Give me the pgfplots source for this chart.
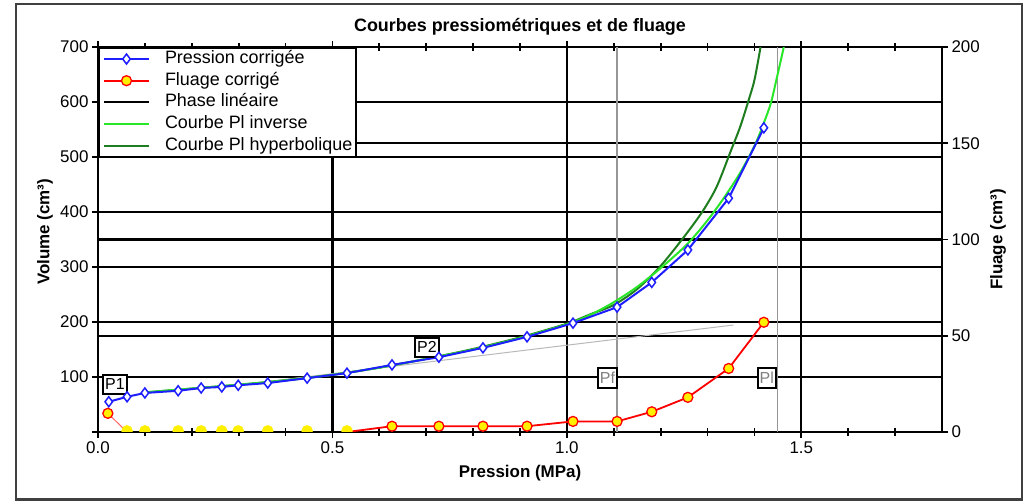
\documentclass[border=0pt]{standalone}
\usepackage{pgfplots}
\pgfplotsset{compat=1.18}
\usepackage{fontspec}
\setmainfont{Liberation Sans}
\definecolor{pblue}{RGB}{30,30,255}
\definecolor{lgreen}{RGB}{40,230,40}
\definecolor{dgreen}{RGB}{30,125,30}
\definecolor{pgray}{RGB}{150,150,150}
\definecolor{pyellow}{RGB}{255,240,0}
\begin{document}
\begin{tikzpicture}
\useasboundingbox (0,0) rectangle (1028bp,501bp);
\fill[white] (0,0) rectangle (1028bp,501bp);
\draw[line width=2.2bp, black!75] (16bp,1.5bp) rectangle (1022bp,497bp);
\begin{axis}[
  at={(98bp,69bp)}, anchor=south west,
  scale only axis, width=844bp, height=385bp,
  xmin=0, xmax=1.8, ymin=0, ymax=700,
  axis line style={line width=2bp, black},
  xtick={0,0.5,1,1.5},
  minor xtick={0.1,0.2,0.3,0.4,0.6,0.7,0.8,0.9,1.1,1.2,1.3,1.4,1.6,1.7},
  ytick={0,100,200,300,400,500,600,700},
  yticklabels={,100,200,300,400,500,600,700},
  xtick pos=both, ytick pos=left,
  tick align=center,
  major tick length=12bp, minor tick length=8bp,
  every tick/.style={line width=1.8bp, black},
  xmajorgrids, ymajorgrids,
  major grid style={line width=2.2bp, black},
  extra y ticks={175,350,525}, extra y tick labels={},
  extra y tick style={grid=major, major tick length=0bp, major grid style={line width=2.2bp, black}},
  /pgf/number format/assume math mode=true,
  tick label style={font=\fontsize{17}{20}\selectfont},
  xticklabel style={/pgf/number format/fixed, /pgf/number format/fixed zerofill, /pgf/number format/precision=1},
  xlabel={Pression (MPa)},
  xlabel style={font=\bfseries\fontsize{17}{20}\selectfont, at={(axis description cs:0.5,-0.1065)}, anchor=center},
  ylabel={Volume (cm³)},
  ylabel style={font=\bfseries\fontsize{17}{20}\selectfont, at={(axis description cs:-0.0628,0.52)}, anchor=center},
  title={Courbes pressiométriques et de fluage},
  title style={font=\bfseries\fontsize{18}{21}\selectfont, at={(axis description cs:0.5,1.036)}, anchor=center},
  legend cell align=left,
  legend image code/.code={\draw[mark repeat=2,mark phase=2,#1] plot coordinates {(0bp,0bp) (22.5bp,0bp) (45bp,0bp)};},
  legend style={at={(0,1)}, anchor=north west, draw=black, line width=2bp, fill=white,
    font=\fontsize{18}{21}\selectfont, inner xsep=4bp, inner ysep=2.5bp, row sep=4.7bp,
    nodes={inner sep=0bp, text height=13bp, text depth=4bp},
    /tikz/every odd column/.append style={column sep=15bp}},
  legend entries={Pression corrigée, Fluage corrigé, Phase linéaire, Courbe Pl inverse, Courbe Pl hyperbolique\hspace{8bp}},
]
\addlegendimage{pblue, line width=2bp, mark=diamond*, mark size=5bp, mark options={fill=white, draw=pblue, line width=1.5bp}}
\addlegendimage{red, line width=2bp, mark=*, mark size=5bp, mark options={fill=pyellow, draw=red, line width=1.3bp}}
\addlegendimage{black, line width=2bp}
\addlegendimage{lgreen, line width=2bp}
\addlegendimage{dgreen, line width=2bp}
% Pf and Pl verticals
\addplot[pgray, line width=1.8bp, forget plot] coordinates {(1.1073,0) (1.1073,700)};
\addplot[pgray, line width=1.8bp, forget plot] coordinates {(1.449,0) (1.449,700)};
% phase lineaire
\addplot[gray!55, line width=1bp, forget plot] coordinates {(0.25,80.3) (1.355,194.5)};
% hyperbolique
\addplot[dgreen, line width=2bp, smooth, forget plot] coordinates {
(0.1,72) (0.2,79) (0.3,86) (0.4,94) (0.5,104) (0.6,117) (0.7,133) (0.8,151) (0.9,172)
(1.0,197) (1.05,214) (1.10,231) (1.15,260) (1.20,302) (1.25,355) (1.29,402) (1.32,447)
(1.35,512) (1.37,556) (1.39,610) (1.40,640) (1.411,690) (1.415,712)};
% inverse
\addplot[lgreen, line width=2bp, smooth, forget plot] coordinates {
(0.1,72) (0.2,79) (0.3,86) (0.4,94) (0.5,104) (0.6,117) (0.7,133) (0.8,150) (0.9,171)
(1.0,196) (1.05,213) (1.1,236) (1.15,264) (1.2,298) (1.25,336) (1.28,364) (1.31,396)
(1.34,432) (1.37,472) (1.40,520) (1.42,562) (1.435,598) (1.448,645) (1.46,690) (1.465,710)};
% pression corrigee
\addplot[pblue, line width=2bp, mark=diamond*, mark size=5bp, mark options={fill=white, draw=pblue, line width=1.5bp}, forget plot] coordinates {
(0.023,55) (0.062,64) (0.100,71) (0.171,75) (0.220,80) (0.264,82) (0.299,85) (0.362,89)
(0.446,98) (0.531,107) (0.627,122) (0.727,136) (0.821,153) (0.915,173) (1.013,198)
(1.107,227) (1.181,272) (1.258,331) (1.345,425) (1.420,553)};
\node[draw=black, line width=2bp, fill=white, inner xsep=2.5bp, inner ysep=0bp, minimum height=19bp, font=\fontsize{16}{18}\selectfont] at (axis cs:0.0362,86.4) {P1};
\node[draw=black, line width=2bp, fill=white, inner xsep=2.5bp, inner ysep=0bp, minimum height=19bp, font=\fontsize{16}{18}\selectfont] at (axis cs:0.7015,154.5) {P2};
\node[draw=black, line width=2bp, fill=white, inner xsep=2bp, inner ysep=0bp, minimum height=20bp, text=gray, font=\fontsize{16}{18}\selectfont] at (axis cs:1.0864,98.2) {Pf};
\node[draw=black, line width=2bp, fill=white, inner xsep=2bp, inner ysep=0bp, minimum height=20bp, text=gray, font=\fontsize{16}{18}\selectfont] at (axis cs:1.4264,98.2) {Pl};
\end{axis}
\begin{axis}[
  at={(98bp,69bp)}, anchor=south west,
  scale only axis, width=844bp, height=385bp,
  xmin=0, xmax=1.8, ymin=0, ymax=200,
  hide x axis, axis y line*=right,
  y axis line style={-, line width=2bp, black},
  ytick={0,50,100,150,200},
  tick align=center, major tick length=12bp,
  every tick/.style={line width=1.8bp, black},
  /pgf/number format/assume math mode=true,
  tick label style={font=\fontsize{17}{20}\selectfont},
  ylabel={Fluage (cm³)},
  ylabel style={font=\bfseries\fontsize{17}{20}\selectfont, at={(axis description cs:1.0664,0.5)}, anchor=center},
  clip marker paths=true,
]
\addplot[red!60, line width=1bp] coordinates {(0.021,9.7) (0.062,0)};
\addplot[red, line width=1.8bp] coordinates {
(0.531,0) (0.627,3) (0.727,3) (0.821,3) (0.915,3) (1.013,5.5) (1.107,5.5)
(1.181,10.5) (1.258,18) (1.345,33) (1.420,57)};
\addplot[only marks, mark=*, mark size=5.5bp, mark options={fill=pyellow, draw=pyellow}] coordinates {
(0.062,0.6) (0.100,0.6) (0.171,0.6) (0.220,0.6) (0.264,0.6) (0.299,0.6) (0.362,0.6) (0.446,0.6) (0.531,0.6)};
\addplot[only marks, mark=*, mark size=5bp, mark options={fill=pyellow, draw=red, line width=1.3bp}] coordinates {
(0.021,9.7) (0.627,3) (0.727,3) (0.821,3) (0.915,3) (1.013,5.5) (1.107,5.5)
(1.181,10.5) (1.258,18) (1.345,33) (1.420,57)};
\end{axis}
\end{tikzpicture}
\end{document}
